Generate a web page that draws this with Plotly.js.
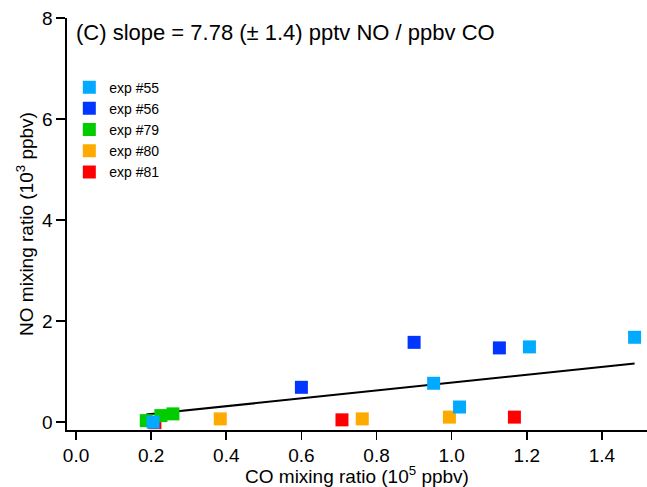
<!DOCTYPE html>
<html>
<head>
<meta charset="utf-8">
<script src="https://cdn.plot.ly/plotly-3.0.1.min.js"></script>
<style>html,body{margin:0;padding:0;background:#fff;}#chart{width:647px;height:487px;}</style>
</head>
<body>
<div id="chart"></div>
<script>
// Series names and colours
const seriesNames = ['exp #55', 'exp #56', 'exp #79', 'exp #80', 'exp #81'];
const seriesColors = ['#00AAFF', '#0036FF', '#00CC00', '#FFAA00', '#FF0000'];

// CO mixing ratio (10^5 ppbv)
const co55 = [0.205, 0.952, 1.021, 1.207, 1.487];
const co56 = [0.600, 0.900, 1.127];
const co79 = [0.187, 0.226, 0.258];
const co80 = [0.384, 0.762, 0.994];
const co81 = [0.210, 0.708, 1.167];

// NO mixing ratio (10^3 ppbv)
const no55 = [0.00, 0.77, 0.30, 1.49, 1.68];
const no56 = [0.69, 1.58, 1.47];
const no79 = [0.03, 0.13, 0.164];
const no80 = [0.065, 0.065, 0.10];
const no81 = [-0.01, 0.046, 0.10];

// Fitted line endpoints
const fitCO = [0.187, 1.487];
const fitNO = [0.15, 1.16];

// Axis ticks
const xTicks = [0.0, 0.2, 0.4, 0.6, 0.8, 1.0, 1.2, 1.4];
const xTickText = ['0.0', '0.2', '0.4', '0.6', '0.8', '1.0', '1.2', '1.4'];
const yTicks = [0, 2, 4, 6, 8];
const yTickText = ['0', '2', '4', '6', '8'];

const xs = [co55, co56, co79, co80, co81];
const ys = [no55, no56, no79, no80, no81];

const traces = [];
traces.push({
  x: fitCO, y: fitNO, mode: 'lines', type: 'scatter',
  line: {color: '#000000', width: 2}, showlegend: false, hoverinfo: 'skip'
});
// draw later series first so exp #55 ends up on top
for (let i = seriesNames.length - 1; i >= 0; i--) {
  traces.push({
    x: xs[i], y: ys[i], name: seriesNames[i], type: 'scatter', mode: 'markers',
    marker: {symbol: 'square', size: 13, color: seriesColors[i], line: {width: 0}}
  });
}

const font = 'Liberation Sans, Arial, Helvetica, sans-serif';
const layout = {
  width: 647, height: 487,
  margin: {l: 67, r: 0, t: 18, b: 57, pad: 0},
  paper_bgcolor: '#ffffff', plot_bgcolor: '#ffffff',
  font: {family: font, size: 19, color: '#000000'},
  showlegend: true,
  legend: {
    x: 0.004, y: 0.87, xanchor: 'left', yanchor: 'top',
    traceorder: 'reversed', bgcolor: 'rgba(0,0,0,0)', borderwidth: 0,
    font: {family: font, size: 14, color: '#000000'}
  },
  xaxis: {
    range: [-0.024, 1.52], tickvals: xTicks, ticktext: xTickText,
    showgrid: false, zeroline: false, showline: true, linecolor: '#000', linewidth: 1.6,
    ticks: 'outside', ticklen: 8, tickwidth: 1.6, tickcolor: '#000',
    tickfont: {size: 19}, automargin: false,
    title: {text: 'CO mixing ratio (10<sup>5</sup> ppbv)', font: {size: 19}, standoff: 6}
  },
  yaxis: {
    range: [-0.155, 8], tickvals: yTicks, ticktext: yTickText,
    showgrid: false, zeroline: false, showline: true, linecolor: '#000', linewidth: 1.6,
    ticks: 'outside', ticklen: 9, tickwidth: 1.6, tickcolor: '#000',
    tickfont: {size: 19}, automargin: false,
    title: {text: 'NO mixing ratio (10<sup>3</sup> ppbv)', font: {size: 19}, standoff: 3}
  },
  annotations: [{
    xref: 'paper', yref: 'paper', x: 0.012, y: 0.966, xanchor: 'left', yanchor: 'middle',
    text: '(C) slope = 7.78 (\u00b1 1.4) pptv NO / ppbv CO', showarrow: false,
    font: {family: font, size: 22, color: '#000'}
  }]
};

Plotly.newPlot('chart', traces, layout, {staticPlot: true, displayModeBar: false});
</script>
</body>
</html>
